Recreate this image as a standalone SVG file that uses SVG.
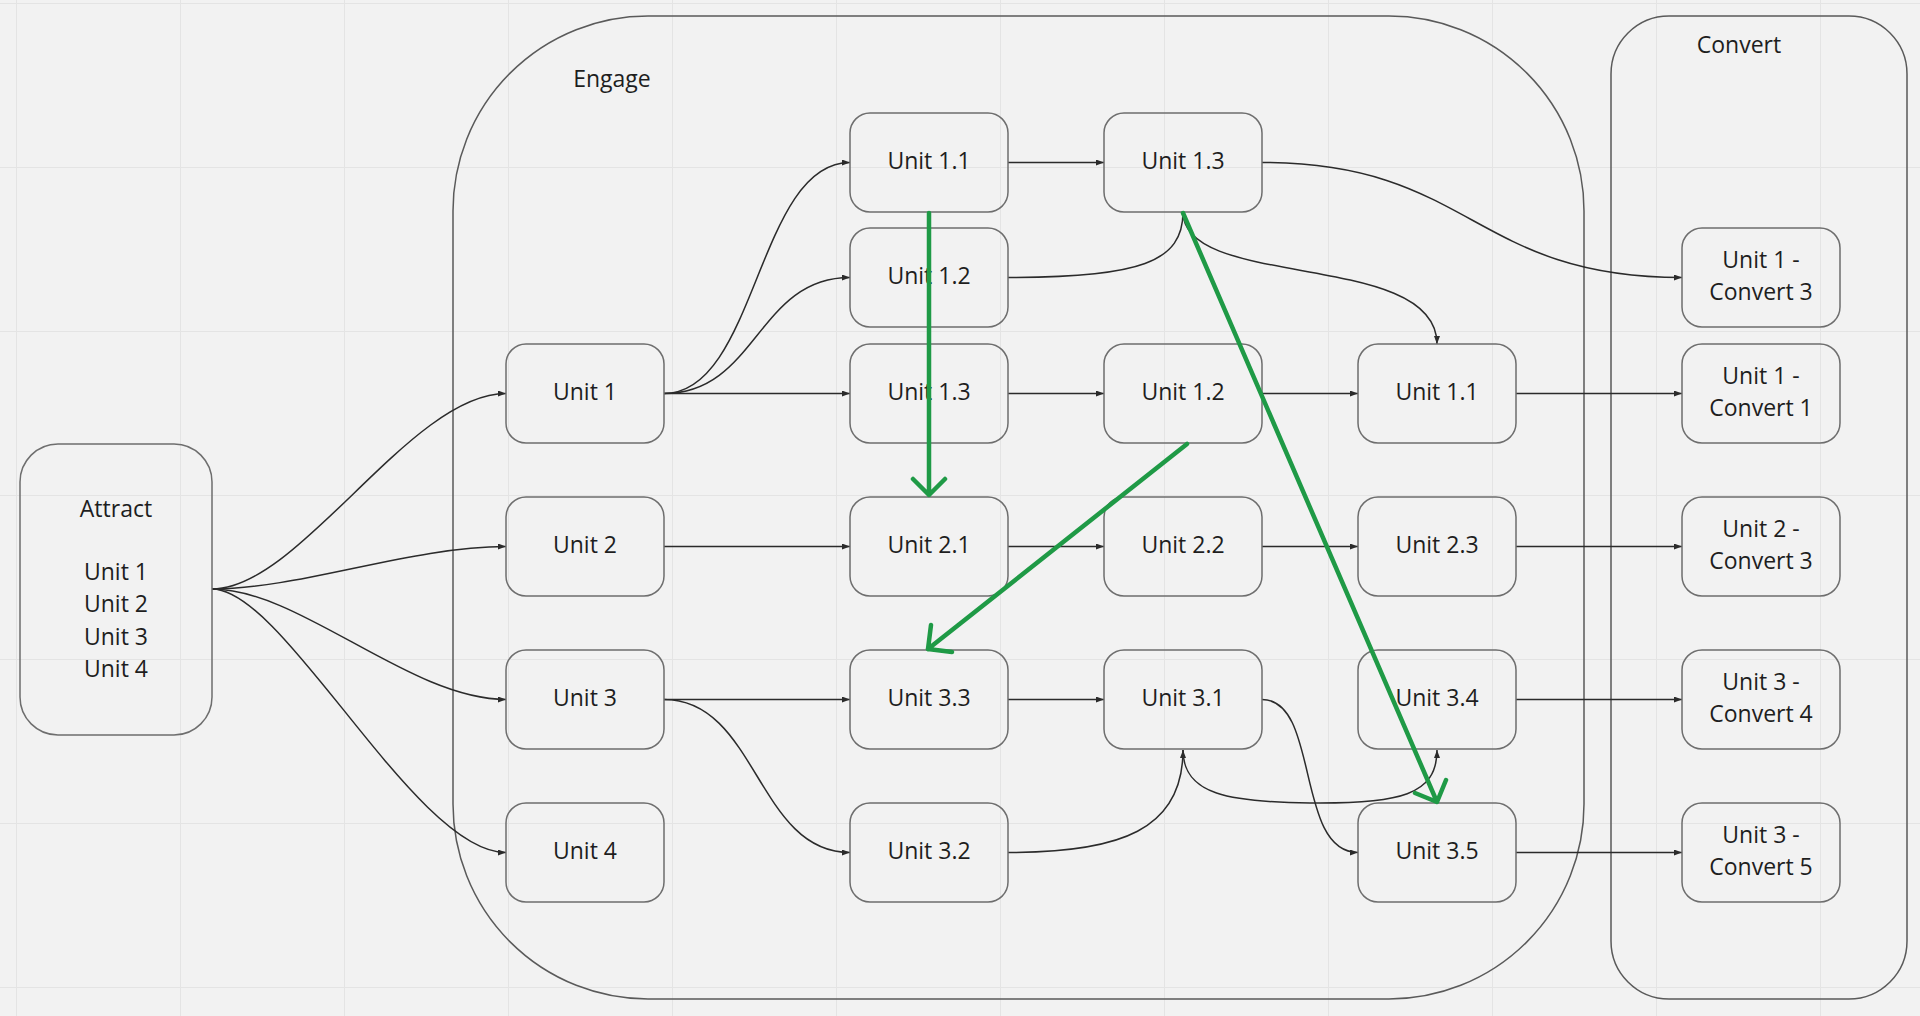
<svg xmlns="http://www.w3.org/2000/svg" width="1920" height="1016" viewBox="0 0 1920 1016">
<defs>
<pattern id="grid" x="16" y="3" width="164" height="164" patternUnits="userSpaceOnUse">
<path d="M0,0 H164 M0,0 V164" stroke="#e4e4e4" stroke-width="2" fill="none"/>
</pattern>
<marker id="ah" viewBox="0 0 8 6" refX="8" refY="3" markerWidth="8" markerHeight="6" markerUnits="userSpaceOnUse" orient="auto">
<path d="M0,0 L8,3 L0,6 z" fill="#2b2b2b"/>
</marker>
<style>
.box{fill:none;stroke:#6e6e6e;stroke-width:1.5}
.cont{fill:none;stroke:#5a5a5a;stroke-width:1.5}
.t{font-family:"Open Sans","Liberation Sans",sans-serif;font-size:23px;fill:#1e1e1e;text-anchor:middle}
.c{fill:none;stroke:#2b2b2b;stroke-width:1.5}
.a{marker-end:url(#ah)}
.g{fill:none;stroke:#1f9a46;stroke-width:4.5;stroke-linecap:round;stroke-linejoin:round}
</style>
</defs>
<rect width="1920" height="1016" fill="#f2f2f2"/>
<rect width="1920" height="1016" fill="url(#grid)"/>

<g id="engage">
<rect class="cont" x="453" y="16" width="1131" height="983" rx="195"/>
<text class="t" x="612" y="87">Engage</text>
</g>
<g id="convert">
<rect class="cont" x="1611" y="16" width="296" height="983" rx="58"/>
<text class="t" x="1739" y="53">Convert</text>
</g>

<g id="connectors">
<path class="c a" d="M212,589 C300,589 410,393.5 506,393.5"/>
<path class="c a" d="M212,589 C300,589 410,546.5 506,546.5"/>
<path class="c a" d="M212,589 C300,589 410,699.5 506,699.5"/>
<path class="c a" d="M212,589 C285,589 415,852.5 506,852.5"/>
<path class="c a" d="M664,393.5 C757,393.5 757,162.5 850,162.5"/>
<path class="c a" d="M664,393.5 C757,393.5 757,277.5 850,277.5"/>
<path class="c a" d="M664,393.5 L850,393.5"/>
<path class="c a" d="M1008,162.5 L1104,162.5"/>
<path class="c a" d="M1262,162.5 C1472,162.5 1472,277.5 1682,277.5"/>
<path class="c" d="M1008,277.5 C1140,277.5 1183,262 1183,212"/>
<path class="c a" d="M1183,212 C1183,290 1437,250 1437,344"/>
<path class="c a" d="M1008,393.5 L1104,393.5"/>
<path class="c a" d="M1262,393.5 L1358,393.5"/>
<path class="c a" d="M1516,393.5 L1682,393.5"/>
<path class="c a" d="M664,546.5 L850,546.5"/>
<path class="c a" d="M1008,546.5 L1104,546.5"/>
<path class="c a" d="M1262,546.5 L1358,546.5"/>
<path class="c a" d="M1516,546.5 L1682,546.5"/>
<path class="c a" d="M664,699.5 L850,699.5"/>
<path class="c a" d="M664,699.5 C757,699.5 757,852.5 850,852.5"/>
<path class="c a" d="M1008,699.5 L1104,699.5"/>
<path class="c a" d="M1008,852.5 C1120,852.5 1183,830 1183,750"/>
<path class="c a" d="M1183,750 C1183,795 1230,802 1310,803 C1400,804 1437,795 1437,750"/>
<path class="c a" d="M1262,699.5 C1320,699.5 1295,852.5 1358,852.5"/>
<path class="c a" d="M1516,699.5 L1682,699.5"/>
<path class="c a" d="M1516,852.5 L1682,852.5"/>
</g>

<g id="attract">
<rect class="box" x="20" y="444" width="192" height="291" rx="38"/>
<text class="t" x="116" y="517">Attract</text>
<text class="t" x="116" y="580">Unit 1</text>
<text class="t" x="116" y="612">Unit 2</text>
<text class="t" x="116" y="645">Unit 3</text>
<text class="t" x="116" y="677">Unit 4</text>
</g>

<g id="unit1"><rect class="box" x="506" y="344" width="158" height="99" rx="20"/><text class="t" x="585" y="400">Unit 1</text></g>
<g id="unit2"><rect class="box" x="506" y="497" width="158" height="99" rx="20"/><text class="t" x="585" y="553">Unit 2</text></g>
<g id="unit3"><rect class="box" x="506" y="650" width="158" height="99" rx="20"/><text class="t" x="585" y="706">Unit 3</text></g>
<g id="unit4"><rect class="box" x="506" y="803" width="158" height="99" rx="20"/><text class="t" x="585" y="859">Unit 4</text></g>

<g id="unit1-1a"><rect class="box" x="850" y="113" width="158" height="99" rx="20"/><text class="t" x="929" y="169">Unit 1.1</text></g>
<g id="unit1-2a"><rect class="box" x="850" y="228" width="158" height="99" rx="20"/><text class="t" x="929" y="284">Unit 1.2</text></g>
<g id="unit1-3b"><rect class="box" x="850" y="344" width="158" height="99" rx="20"/><text class="t" x="929" y="400">Unit 1.3</text></g>
<g id="unit2-1"><rect class="box" x="850" y="497" width="158" height="99" rx="20"/><text class="t" x="929" y="553">Unit 2.1</text></g>
<g id="unit3-3"><rect class="box" x="850" y="650" width="158" height="99" rx="20"/><text class="t" x="929" y="706">Unit 3.3</text></g>
<g id="unit3-2"><rect class="box" x="850" y="803" width="158" height="99" rx="20"/><text class="t" x="929" y="859">Unit 3.2</text></g>

<g id="unit1-3a"><rect class="box" x="1104" y="113" width="158" height="99" rx="20"/><text class="t" x="1183" y="169">Unit 1.3</text></g>
<g id="unit1-2b"><rect class="box" x="1104" y="344" width="158" height="99" rx="20"/><text class="t" x="1183" y="400">Unit 1.2</text></g>
<g id="unit2-2"><rect class="box" x="1104" y="497" width="158" height="99" rx="20"/><text class="t" x="1183" y="553">Unit 2.2</text></g>
<g id="unit3-1"><rect class="box" x="1104" y="650" width="158" height="99" rx="20"/><text class="t" x="1183" y="706">Unit 3.1</text></g>

<g id="unit1-1b"><rect class="box" x="1358" y="344" width="158" height="99" rx="20"/><text class="t" x="1437" y="400">Unit 1.1</text></g>
<g id="unit2-3"><rect class="box" x="1358" y="497" width="158" height="99" rx="20"/><text class="t" x="1437" y="553">Unit 2.3</text></g>
<g id="unit3-4"><rect class="box" x="1358" y="650" width="158" height="99" rx="20"/><text class="t" x="1437" y="706">Unit 3.4</text></g>
<g id="unit3-5"><rect class="box" x="1358" y="803" width="158" height="99" rx="20"/><text class="t" x="1437" y="859">Unit 3.5</text></g>

<g id="u1-convert3"><rect class="box" x="1682" y="228" width="158" height="99" rx="20"/><text class="t" x="1761" y="268">Unit 1 -</text><text class="t" x="1761" y="300">Convert 3</text></g>
<g id="u1-convert1"><rect class="box" x="1682" y="344" width="158" height="99" rx="20"/><text class="t" x="1761" y="384">Unit 1 -</text><text class="t" x="1761" y="416">Convert 1</text></g>
<g id="u2-convert3"><rect class="box" x="1682" y="497" width="158" height="99" rx="20"/><text class="t" x="1761" y="537">Unit 2 -</text><text class="t" x="1761" y="569">Convert 3</text></g>
<g id="u3-convert4"><rect class="box" x="1682" y="650" width="158" height="99" rx="20"/><text class="t" x="1761" y="690">Unit 3 -</text><text class="t" x="1761" y="722">Convert 4</text></g>
<g id="u3-convert5"><rect class="box" x="1682" y="803" width="158" height="99" rx="20"/><text class="t" x="1761" y="843">Unit 3 -</text><text class="t" x="1761" y="875">Convert 5</text></g>

<g id="green-arrows">
<path class="g" d="M929,213 L929,495 M913,479 L929,495 L945,479"/>
<path class="g" d="M1187,444 L928,649 M952,652 L928,649 L931,625"/>
<path class="g" d="M1183,213 L1437,802 M1446,780 L1437,802 L1415,793"/>
</g>
</svg>
